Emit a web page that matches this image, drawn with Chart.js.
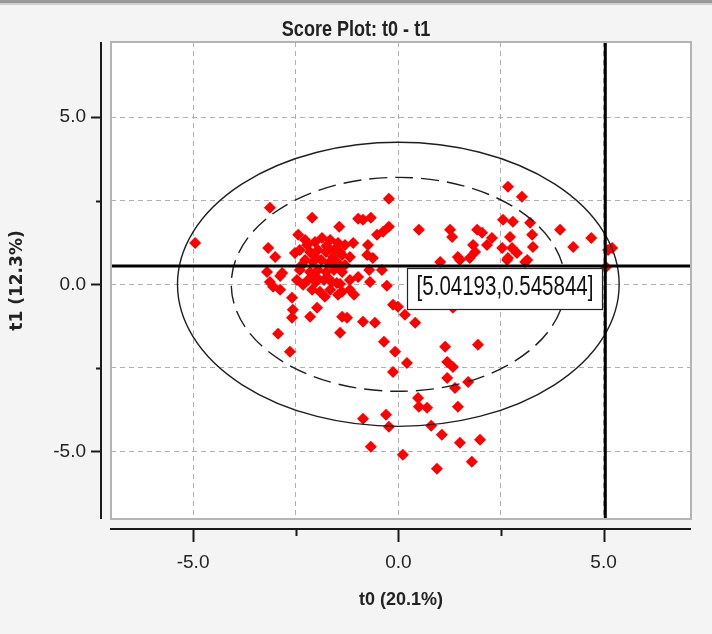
<!DOCTYPE html>
<html>
<head>
<meta charset="utf-8">
<script src="https://cdn.jsdelivr.net/npm/chart.js@4.4.1/dist/chart.umd.min.js"></script>
<style>
  html, body { margin: 0; padding: 0; background: #f4f4f4; }
  canvas { display: block; }
</style>
</head>
<body>
<canvas id="scorePlot" width="712" height="634"></canvas>
<script>
const CHART_TITLE = 'Score Plot: t0 - t1';
const X_TITLE = 't0 (20.1%)';
const Y_TITLE = 't1 (12.3%)';

const X_TICKS = [-5, -2.5, 0, 2.5, 5];
const X_TICK_LABELS = ['-5.0', '', '0.0', '', '5.0'];
const Y_TICKS = [-5, -2.5, 0, 2.5, 5];
const Y_TICK_LABELS = ['-5.0', '', '0.0', '', '5.0'];

const X_MIN = -7.0, X_MAX = 7.13;
const Y_MIN = -7.02, Y_MAX = 7.25;

// Hotelling ellipses (semi axes in t0 / t1 units)
const ELLIPSE_OUTER = [5.38, 4.25];
const ELLIPSE_INNER = [4.07, 3.2];

// crosshair position read by the cursor
const CROSS_T0 = 5.04193;
const CROSS_T1 = 0.545844;

// scores
const T0 = [
  -4.95, -3.13, -2.10, -3.17, -3.00, -3.20, -3.13, -2.88, -2.88, -2.59,
  -2.57, -2.59, -2.15, -1.98, -1.79, -2.44, -2.22, -2.52, -2.47, -2.32,
  -2.93, -2.64, -3.05, -2.83, -1.37, -1.42,
  -2.27, -2.03, -1.86, -1.66, -1.47, -1.30,
  -2.40, -2.15, -1.96, -1.76, -1.57, -1.37,
  -2.27, -2.08, -1.88, -1.69, -1.50, -1.30,
  -2.40, -2.15, -1.96, -1.76, -1.57, -1.37,
  -2.20, -2.01, -1.81, -1.62, -1.42,
  -2.10, -1.91, -1.66, -1.47,
  -2.35, -2.00, -1.72, -1.40, -1.75, -2.05,
  -1.44, -0.98, -0.86, -0.67, -0.23, -0.37, -0.52, -0.23, 0.50, 1.26,
  1.31, -1.10, -0.74, -0.76, -1.18, -1.42, -1.59, -0.71, -0.40, -0.98,
  -1.18, -0.69, -1.50, -1.18, -1.08, -1.37, -0.28, -0.13, -0.01, 0.16,
  0.41, -1.25, -0.86, -0.57, -0.35, -0.08, 0.21, -0.13, 1.14, 1.94,
  1.19, 1.33, 1.19, 1.38, 1.70, 0.48, 0.50, 0.70, 1.45, -0.86,
  -0.30, -0.23, 0.80, 1.06, 1.50, 1.99, -0.67, 0.11, 0.94, 1.79,
  -0.62,
  2.67, 3.01, 2.55, 2.79, 3.21, 3.26, 3.28, 2.72, 2.77, 2.89,
  2.67, 2.28, 2.16, 2.04, 3.14, 3.94, 4.26, 4.70, 5.21, 5.11,
  5.06, 1.92, 1.87, 1.74, 1.50, 1.02, 2.65, 3.09, 2.53, 1.45,
  1.82, 1.33
];
const T1 = [
  1.24, 2.29, 1.99, 1.09, 0.82, 0.37, 0.07, -0.16, 0.25, -0.40,
  -0.76, -1.00, -0.97, -0.70, -0.37, 1.48, 1.18, 0.94, 0.13, -0.01,
  -1.48, -2.02, -0.07, 0.34, -0.97, -1.45,
  1.33, 1.27, 1.39, 1.33, 1.24, 1.18,
  1.03, 0.97, 1.03, 0.97, 1.03, 0.88,
  0.73, 0.67, 0.73, 0.64, 0.67, 0.58,
  0.43, 0.37, 0.43, 0.37, 0.43, 0.37,
  0.13, 0.07, 0.13, 0.07, 0.01,
  -0.16, -0.22, -0.16, -0.31,
  0.58, 0.22, 0.20, 0.50, 1.15, 0.85,
  1.72, 1.96, 1.93, 1.99, 1.72, 1.57, 1.48, 2.56, 1.63, 1.63,
  1.42, 1.24, 1.18, 0.88, 0.82, 0.97, 0.82, 0.43, 0.43, 0.22,
  0.13, 0.07, 0.04, -0.16, -0.31, -0.22, -0.04, -0.61, -0.67, -0.91,
  -1.15, -1.00, -1.12, -1.15, -1.72, -2.02, -2.35, -2.62, -1.87, -1.81,
  -2.32, -2.47, -2.80, -3.10, -2.92, -3.40, -3.66, -3.69, -3.66, -4.02,
  -3.90, -4.26, -4.23, -4.50, -4.74, -4.65, -4.86, -5.10, -5.52, -5.31,
  0.79,
  2.92, 2.62, 1.93, 1.87, 1.84, 1.48, 1.12, 1.42, 1.09, 0.94,
  0.79, 1.39, 1.18, 1.54, 0.73, 1.63, 1.12, 1.39, 1.09, 1.03,
  0.52, 1.63, 0.97, 0.79, 0.73, 0.67, 0.73, 0.67, 1.09, 0.82,
  1.18, -0.70
];

const SANS = '"Liberation Sans", Arial, sans-serif';

// narrow text: Liberation Sans squeezed horizontally
function narrowText(ctx, text, x, y, squeeze) {
  ctx.save();
  ctx.translate(x, y);
  ctx.scale(squeeze, 1);
  ctx.fillText(text, 0, 0);
  ctx.restore();
}

const framePlugin = {
  id: 'frame',
  beforeDraw(chart) {
    const { ctx, chartArea: a, width, height } = chart;
    ctx.save();
    ctx.fillStyle = '#f4f4f4';
    ctx.fillRect(0, 0, width, height);
    ctx.fillStyle = '#9a9a9a';
    ctx.fillRect(0, 0, width, 3);
    ctx.fillStyle = '#cfcfcf';
    ctx.fillRect(0, 3, width, 2);
    ctx.fillStyle = '#ffffff';
    ctx.fillRect(a.left, a.top, a.right - a.left, a.bottom - a.top);
    ctx.restore();
  },
  afterDatasetsDraw(chart) {
    const { ctx, chartArea: a, scales: { x, y } } = chart;
    const cx0 = x.getPixelForValue(0), cy0 = y.getPixelForValue(0);
    ctx.save();

    // confidence ellipses
    ctx.strokeStyle = '#1e1e1e';
    ctx.lineWidth = 1.4;
    ctx.beginPath();
    ctx.ellipse(cx0, cy0, x.getPixelForValue(ELLIPSE_OUTER[0]) - cx0, cy0 - y.getPixelForValue(ELLIPSE_OUTER[1]), 0, 0, Math.PI * 2);
    ctx.stroke();
    ctx.setLineDash([18, 8]);
    ctx.beginPath();
    ctx.ellipse(cx0, cy0, x.getPixelForValue(ELLIPSE_INNER[0]) - cx0, cy0 - y.getPixelForValue(ELLIPSE_INNER[1]), 0, 0, Math.PI * 2);
    ctx.stroke();
    ctx.setLineDash([]);

    // crosshair
    const px = x.getPixelForValue(CROSS_T0), py = y.getPixelForValue(CROSS_T1);
    ctx.strokeStyle = '#000';
    ctx.lineWidth = 3;
    ctx.beginPath();
    ctx.moveTo(px, a.top); ctx.lineTo(px, a.bottom);
    ctx.moveTo(a.left, py); ctx.lineTo(a.right, py);
    ctx.stroke();

    // value label
    const bw = 195, bh = 41;
    const bx = Math.round(px - 3 - bw) + 0.5, by = Math.round(py + 2) + 0.5;
    ctx.fillStyle = '#fff';
    ctx.fillRect(bx, by, bw, bh);
    ctx.strokeStyle = '#222';
    ctx.lineWidth = 1.2;
    ctx.strokeRect(bx, by, bw, bh);
    ctx.fillStyle = '#111';
    ctx.font = '27px ' + SANS;
    ctx.textAlign = 'center';
    ctx.textBaseline = 'middle';
    narrowText(ctx, '[' + CROSS_T0 + ',' + CROSS_T1 + ']', bx + bw / 2, by + bh / 2 - 1, 0.76);

    // plot frame
    ctx.strokeStyle = '#b4b4b4';
    ctx.lineWidth = 2;
    ctx.strokeRect(a.left, a.top, a.right - a.left, a.bottom - a.top);
    ctx.restore();
  },
  afterDraw(chart) {
    const { ctx, chartArea: a, scales: { x, y }, width } = chart;
    ctx.save();
    ctx.strokeStyle = '#1a1a1a';
    ctx.lineWidth = 2;

    // detached x axis
    const ax = a.bottom + 10;
    ctx.beginPath();
    ctx.moveTo(a.left - 1, ax); ctx.lineTo(a.right, ax);
    X_TICKS.forEach((v, i) => {
      const p = Math.round(x.getPixelForValue(v)) + 0.5;
      ctx.moveTo(p, ax); ctx.lineTo(p, ax + (X_TICK_LABELS[i] ? 13 : 7));
    });
    ctx.stroke();

    // detached y axis
    const ay = a.left - 10;
    ctx.beginPath();
    ctx.moveTo(ay, a.top); ctx.lineTo(ay, a.bottom);
    Y_TICKS.forEach((v, i) => {
      const p = Math.round(y.getPixelForValue(v)) + 0.5;
      ctx.moveTo(ay, p); ctx.lineTo(ay - (Y_TICK_LABELS[i] ? 10 : 5), p);
    });
    ctx.stroke();

    // title
    ctx.fillStyle = '#222';
    ctx.font = 'bold 22px ' + SANS;
    ctx.textAlign = 'center';
    ctx.textBaseline = 'middle';
    narrowText(ctx, CHART_TITLE, width / 2, 30, 0.82);
    ctx.restore();
  }
};

const points = T0.map((t0, i) => ({ x: t0, y: T1[i] }));

new Chart(document.getElementById('scorePlot').getContext('2d'), {
  type: 'scatter',
  data: {
    datasets: [{
      data: points,
      pointStyle: 'rectRot',
      pointRadius: 6,
      pointHoverRadius: 6,
      backgroundColor: '#ff0000',
      borderWidth: 0
    }]
  },
  options: {
    responsive: false,
    animation: false,
    layout: { padding: { top: 42, right: 21, bottom: 0, left: 0 } },
    plugins: {
      legend: { display: false },
      tooltip: { enabled: false }
    },
    scales: {
      x: {
        type: 'linear',
        min: X_MIN,
        max: X_MAX,
        afterBuildTicks: s => { s.ticks = X_TICKS.map(v => ({ value: v })); },
        afterFit: s => { s.height = 115; },
        grid: { color: '#b0b0b0', lineWidth: 1, drawTicks: false },
        border: { display: false, dash: [5, 4] },
        ticks: {
          padding: 32,
          color: '#222',
          autoSkip: false,
          maxRotation: 0,
          font: { family: SANS, size: 19 },
          callback: (v, i) => X_TICK_LABELS[i]
        },
        title: {
          display: true,
          text: X_TITLE,
          color: '#222',
          font: { family: SANS, size: 18, weight: 'bold' },
          padding: { top: 0, bottom: 23 }
        }
      },
      y: {
        type: 'linear',
        min: Y_MIN,
        max: Y_MAX,
        afterBuildTicks: s => { s.ticks = Y_TICKS.map(v => ({ value: v })); },
        afterFit: s => { s.width = 111; },
        grid: { color: '#b0b0b0', lineWidth: 1, drawTicks: false },
        border: { display: false, dash: [5, 4] },
        ticks: {
          padding: 25,
          color: '#222',
          autoSkip: false,
          font: { family: SANS, size: 19 },
          callback: (v, i) => Y_TICK_LABELS[i]
        },
        title: {
          display: true,
          text: Y_TITLE,
          color: '#222',
          font: { family: '"DejaVu Sans", sans-serif', size: 17, weight: 'bold' },
          padding: { top: 7, bottom: 0 }
        }
      }
    }
  },
  plugins: [framePlugin]
});
</script>
</body>
</html>
